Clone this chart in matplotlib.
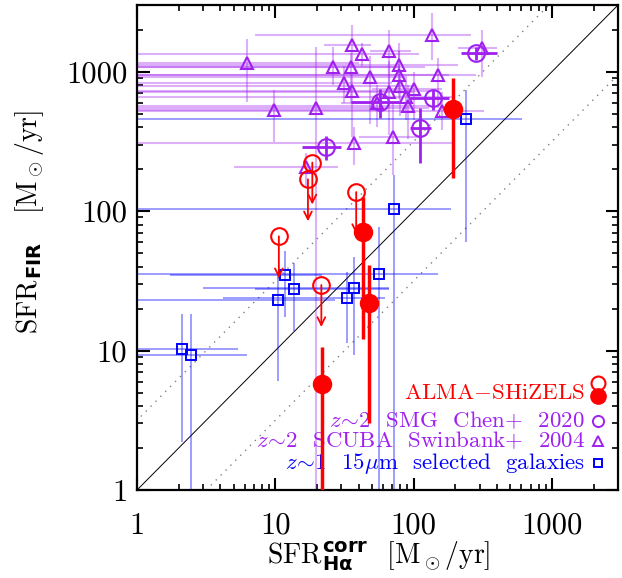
import numpy as np
import matplotlib
matplotlib.use("Agg")
import matplotlib.pyplot as plt

plt.rcParams["font.family"] = ["cmr10", "DejaVu Serif"]
plt.rcParams["mathtext.fontset"] = "custom"
plt.rcParams["mathtext.rm"] = "cmr10"
plt.rcParams["mathtext.it"] = "cmmi10"
plt.rcParams["mathtext.bf"] = "cmb10"
plt.rcParams["mathtext.sf"] = "DejaVu Sans:bold"
plt.rcParams["mathtext.fallback"] = "cm"
plt.rcParams["axes.formatter.use_mathtext"] = True

# ---------------------------------------------------------------------------
# Datos (SFR Halpha corregida vs SFR FIR, en Msun/yr)
# ---------------------------------------------------------------------------

# ALMA-SHiZELS: limites superiores (circulos abiertos)
alma_lim_x = [10.6, 18.5, 17.2, 38.4, 21.5]
alma_lim_y = [66, 223, 169, 137, 29.5]

# ALMA-SHiZELS: detecciones (circulos llenos)
alma_x = [42.8, 47.9, 21.8, 193]
alma_y = [70.4, 22.0, 5.8, 538]
alma_ylo = [12.1, 3.0, 0.3, 172]
alma_yhi = [127, 41, 10.6, 898]

# z~2 SMG Chen+ 2020
chen_x = [281, 57.4, 137, 112, 23.1]
chen_y = [1350, 608, 643, 392, 289]
chen_xlo = [218, 35.3, 94, 94, 15.7]
chen_xhi = [402, 78.5, 181, 133, 29.9]
chen_ylo = [1220, 464, 530, 220, 231]
chen_yhi = [1500, 748, 737, 553, 347]

# z~2 SCUBA Swinbank+ 2004
swin_x = [6.2, 9.8, 135, 35.9, 42.4, 65.9, 26.2, 35.3, 78.7, 78, 48.4, 31.6,
          35.7, 150, 80, 99.9, 65.9, 88, 91.4, 159, 19.8, 54.7, 311, 70.5,
          37.3, 16.6]
swin_y = [1157, 530, 1827, 1549, 1328, 1403, 1082, 1082, 1113, 944, 918, 823,
          725, 944, 787, 749, 717, 660, 566, 524, 550, 595, 1466, 341,
          306, 208]
swin_xlo = [0.3, 0.3, 7.1, 22.6, 0.3, 48, 0.3, 0.3, 0.3, 0.3, 0.3, 0.3,
            0.3, 0.3, 0.3, 50, 0.3, 0.3, 0.3, 0.3, 0.3, 30, 210, 40,
            0.3, 5.0]
swin_xhi = [40, 60, 259, 49, 110, 95, 80, 120, 210, 180, 90, 70,
            130, 280, 100, 160, 100, 200, 130, 320, 130, 90, 400, 110,
            200, 28.5]
swin_ylo = [608, 314, 1209, 1082, 1100, 780, 800, 600, 750, 640, 420, 600,
            340, 550, 480, 450, 350, 450, 330, 380, 0.3, 400, 920, 180,
            214, 150]
swin_yhi = [1702, 736, 2640, 2150, 1600, 1990, 1500, 1350, 1600, 1400, 1300, 1100,
            1000, 1250, 1000, 1000, 1200, 900, 800, 720, 1500, 800, 1990, 600,
            400, 260]

# z~1 15um selected galaxies
mir_x = [11.8, 13.6, 10.5, 32.7, 36.9, 56.5, 237, 72.4, 2.12, 2.45]
mir_y = [34.8, 27.7, 22.9, 23.9, 28.1, 35.3, 456, 103, 10.3, 9.3]
mir_xlo = [1.73, 7.1, 0.3, 4.2, 3.0, 0.3, 0.3, 0.3, 0.3, 0.3]
mir_xhi = [21.6, 66.6, 26.8, 61.6, 66.6, 149, 604, 187, 5.4, 6.2]
mir_ylo = [17.5, 13.7, 6.1, 11.3, 9.3, 0.3, 60, 0.3, 2.22, 0.3]
mir_yhi = [51.5, 42.4, 34.9, 36.6, 47, 77, 740, 180, 18.3, 18.3]

ROJO = "#FF0000"
MORADO = "#A020F0"
AZUL = "#0000FF"


def _asim(centro, bajo, alto):
    c = np.asarray(centro, float)
    return [c - np.asarray(bajo, float), np.asarray(alto, float) - c]


fig = plt.figure(figsize=(6.22, 5.78), dpi=100)
ax = fig.add_axes([0.2203, 0.1522, 0.7733, 0.839])
ax.set_xscale("log")
ax.set_yscale("log")
ax.set_xlim(1, 3000)
ax.set_ylim(1, 3000)

# Lineas de referencia 1:1 y +-0.5 dex
linea = np.array([0.1, 1e4])
ax.plot(linea, linea, color="black", lw=0.7, zorder=1)
ax.plot(linea, linea * 10**0.5, color="#808080", lw=1.0, ls=(0, (1, 4)), zorder=1)
ax.plot(linea, linea / 10**0.5, color="#808080", lw=1.0, ls=(0, (1, 4)), zorder=1)

# Swinbank+ 2004
ax.errorbar(swin_x, swin_y, xerr=_asim(swin_x, swin_xlo, swin_xhi),
            yerr=_asim(swin_y, swin_ylo, swin_yhi), fmt="none",
            ecolor=MORADO, elinewidth=1.5, alpha=0.35, capsize=0, zorder=2)
ax.plot(swin_x, swin_y, "^", ms=8, mfc="none", mec=MORADO, mew=1.5, zorder=5)

# 15um
ax.errorbar(mir_x, mir_y, xerr=_asim(mir_x, mir_xlo, mir_xhi),
            yerr=_asim(mir_y, mir_ylo, mir_yhi), fmt="none",
            ecolor=AZUL, elinewidth=1.2, alpha=0.45, capsize=0, zorder=2)
ax.plot(mir_x, mir_y, "s", ms=7, mfc="none", mec=AZUL, mew=1.4, zorder=5)

# Chen+ 2020
ax.errorbar(chen_x, chen_y, xerr=_asim(chen_x, chen_xlo, chen_xhi),
            yerr=_asim(chen_y, chen_ylo, chen_yhi), fmt="o", ms=12,
            mfc="none", mec=MORADO, mew=1.5, ecolor=MORADO, elinewidth=2,
            capsize=0, zorder=6)

# ALMA-SHiZELS
ax.errorbar(alma_x, alma_y, yerr=_asim(alma_y, alma_ylo, alma_yhi), fmt="o",
            ms=13, color=ROJO, ecolor=ROJO, elinewidth=2.5, capsize=0, zorder=8)
ax.plot(alma_lim_x, alma_lim_y, "o", ms=12, mfc="none", mec=ROJO, mew=1.5, zorder=8)
for x, y in zip(alma_lim_x, alma_lim_y):
    ax.annotate("", xy=(x, y / 2.0), xytext=(x, y),
                arrowprops=dict(arrowstyle="->", color=ROJO, lw=1.3,
                                shrinkA=0, shrinkB=0, mutation_scale=14),
                zorder=8)

# Ejes
ax.set_xticks([1, 10, 100, 1000], labels=["1", "10", "100", "1000"])
ax.set_yticks([1, 10, 100, 1000], labels=["1", "10", "100", "1000"])
ax.tick_params(which="both", direction="in", top=True, right=True, labelsize=22)
ax.tick_params(which="major", length=9, width=1.5)
ax.tick_params(which="minor", length=4.5, width=1.2)
ax.tick_params(axis="x", pad=16)
ax.tick_params(axis="y", pad=7)
ax.minorticks_on()
for spine in ax.spines.values():
    spine.set_linewidth(1.6)

fig.text(0.608, 0.025, r"SFR$^{\mathsf{corr}}_{\mathsf{H\alpha}}$  [M$_\odot$/yr]",
         ha="center", va="baseline", fontsize=20)
fig.text(0.048, 0.616, r"SFR$_{\mathsf{FIR}}$   [M$_\odot$/yr]", rotation=90,
         ha="center", va="center", fontsize=20)

# Leyenda manual
tx = 0.931
mx = 0.958
ax.text(tx, 0.1876, r"ALMA$-$SHiZELS", color=ROJO, fontsize=16.5,
        ha="right", va="baseline", transform=ax.transAxes)
ax.text(tx, 0.1305, r"$z\!\sim\!2$  SMG  Chen+  2020", color=MORADO, fontsize=16.5,
        ha="right", va="baseline", transform=ax.transAxes)
ax.text(tx, 0.088, r"$z\!\sim\!2$  SCUBA  Swinbank+  2004", color=MORADO,
        fontsize=16.5, ha="right", va="baseline", transform=ax.transAxes)
ax.text(tx, 0.0426, r"$z\!\sim\!1$  15$\mu$m  selected  galaxies", color=AZUL,
        fontsize=16.5, ha="right", va="baseline", transform=ax.transAxes)
ax.plot([mx], [0.2206], "o", ms=10, mfc="none", mec=ROJO, mew=1.5,
        transform=ax.transAxes, clip_on=False)
ax.plot([mx], [0.194], "o", ms=11, color=ROJO, transform=ax.transAxes, clip_on=False)
ax.plot([mx], [0.142], "o", ms=8, mfc="none", mec=MORADO, mew=1.4,
        transform=ax.transAxes, clip_on=False)
ax.plot([mx], [0.101], "^", ms=7, mfc="none", mec=MORADO, mew=1.4,
        transform=ax.transAxes, clip_on=False)
ax.plot([mx], [0.0557], "s", ms=6, mfc="none", mec=AZUL, mew=1.4,
        transform=ax.transAxes, clip_on=False)

fig.savefig("out.png", dpi=100)
